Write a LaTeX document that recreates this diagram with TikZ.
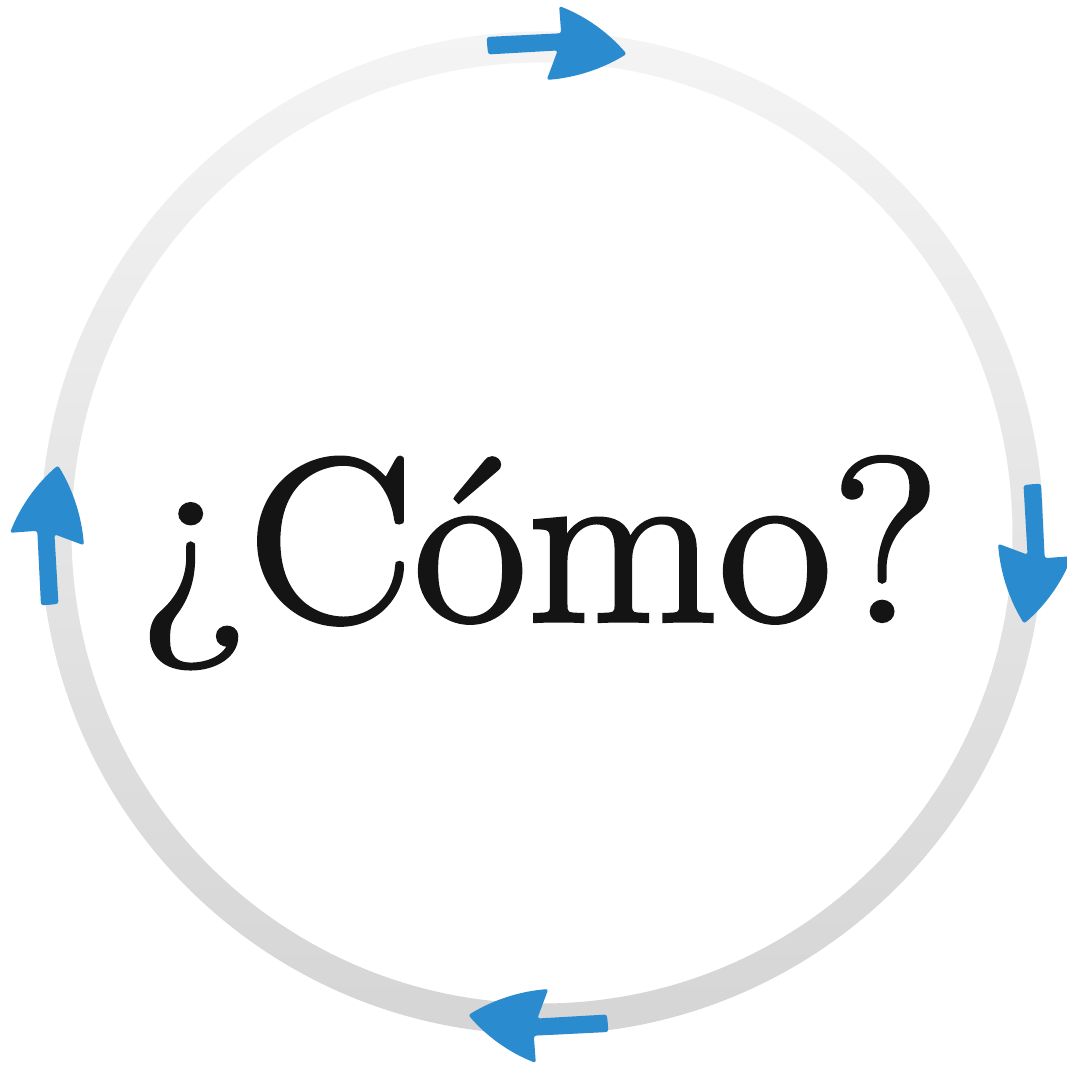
\documentclass[tikz,border=0pt]{standalone}
\usepackage{fontspec}
\newfontfamily\titlefont{Latin Modern Roman}[FakeBold=1.8]
\definecolor{arrowblue}{RGB}{42,139,207}
\definecolor{ringtop}{RGB}{244,244,244}
\definecolor{ringbot}{RGB}{213,213,213}
\definecolor{textblack}{RGB}{20,20,20}
\tikzset{
  ringstyle/.style={top color=ringtop, bottom color=ringbot, even odd rule},
  arrowfill/.style={fill=arrowblue, rounded corners=0.25mm},
  titletext/.style={font=\titlefont\fontsize{66.5}{80}\selectfont, text=textblack, anchor=base, inner sep=0pt}
}
\begin{document}
\begin{tikzpicture}
\useasboundingbox (0,0) rectangle (10.67,10.65);
\fill[white] (0,0) rectangle (10.67,10.65);
\coordinate (ctr) at (5.42,5.32);
\shade[ringstyle] (5.42,5.32) circle (5.015) (5.42,5.32) circle (4.705);
\foreach \a/\dx/\dy in {0/0/0, -90/0.03/-0.06, -180/0.11/-0.03, -270/-0.05/-0.17}{
  \begin{scope}[shift={(\dx,\dy)}, rotate around={\a:(5.42,5.32)}]
    \begin{scope}[shift={(0,10.65)}, x=0.01cm, y=-0.01cm]
      \path[arrowfill] (487.5,46) -- (488.5,54.5) -- (558,50.5) -- (547,80)
        .. controls (575.8,77.7) and (602.4,69.1) .. (627,54)
        .. controls (608.6,32.5) and (586.2,16.5) .. (559.5,6)
        -- (561.5,33.3) -- (487,37) -- cycle;
    \end{scope}
  \end{scope}
}
\node[titletext, xscale=1.06] (title) at (5.40,4.44) {¿Cómo?};
\end{tikzpicture}
\end{document}
